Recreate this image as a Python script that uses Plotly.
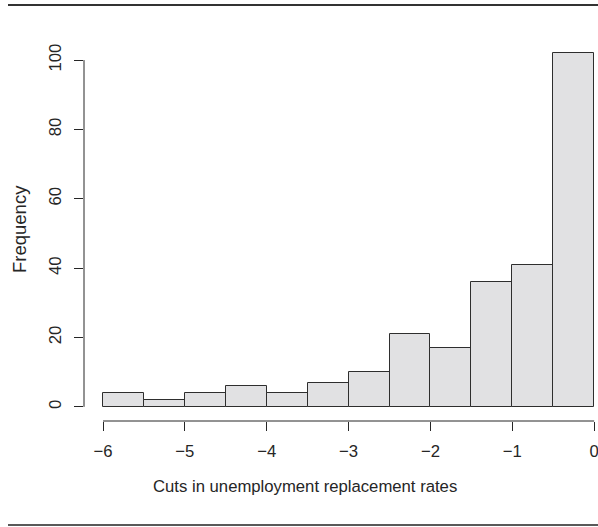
import plotly.graph_objects as go

# Histogram of cuts in unemployment replacement rates (bin width 0.5)
bin_left = [-6.0, -5.5, -5.0, -4.5, -4.0, -3.5, -3.0, -2.5, -2.0, -1.5, -1.0, -0.5]
counts = [4, 2, 4, 6, 4, 7, 10, 21, 17, 36, 41, 102]
x_ticks = [-6, -5, -4, -3, -2, -1, 0]
x_tick_text = ["\u22126", "\u22125", "\u22124", "\u22123", "\u22122", "\u22121", "0"]
y_ticks = [0, 20, 40, 60, 80, 100]
bin_width = 0.5

W, H = 598, 527
L, R, T, B = 84, 0, 39, 106
pw, ph = W - L - R, H - T - B


def px_to_paper_x(px):
    return (px - L) / pw


def px_to_paper_y(py):
    return (H - B - py) / ph


FONT = "Liberation Sans, Arial, Helvetica, sans-serif"
INK = "#262626"
FS = 16.7

fig = go.Figure()
fig.add_trace(go.Bar(
    x=[b + bin_width / 2 for b in bin_left],
    y=counts,
    width=bin_width,
    marker=dict(color="#e1e1e3", line=dict(color="#2e2e2e", width=1)),
    hoverinfo="x+y",
))

shapes = [
    # x axis line spanning the tick range
    dict(type="line", xref="x", yref="paper", x0=min(x_ticks), x1=max(x_ticks),
         y0=0, y1=0, line=dict(color=INK, width=1)),
    # y axis line spanning the tick range
    dict(type="line", xref="paper", yref="y", x0=0, x1=0,
         y0=min(y_ticks), y1=max(y_ticks), line=dict(color=INK, width=1)),
    # page rules above and below the figure
    dict(type="line", xref="paper", yref="paper", x0=px_to_paper_x(8), x1=px_to_paper_x(598),
         y0=px_to_paper_y(5), y1=px_to_paper_y(5), line=dict(color="#333333", width=2)),
    dict(type="line", xref="paper", yref="paper", x0=px_to_paper_x(8), x1=px_to_paper_x(598),
         y0=px_to_paper_y(525), y1=px_to_paper_y(525), line=dict(color="#222222", width=1.5)),
]

annotations = [
    dict(text="Cuts in unemployment replacement rates", xref="paper", yref="paper",
         x=px_to_paper_x(305), y=px_to_paper_y(487), showarrow=False,
         xanchor="center", yanchor="middle", font=dict(family=FONT, size=FS, color=INK)),
    dict(text="Frequency", xref="paper", yref="paper",
         x=px_to_paper_x(19), y=px_to_paper_y(229), showarrow=False, textangle=-90,
         xanchor="center", yanchor="middle", font=dict(family=FONT, size=18.5, color=INK)),
]

fig.update_layout(
    width=W, height=H,
    margin=dict(l=L, r=R, t=T, b=B, pad=0),
    paper_bgcolor="white", plot_bgcolor="white",
    showlegend=False,
    bargap=0,
    font=dict(family=FONT, size=FS, color=INK),
    shapes=shapes,
    annotations=annotations,
    xaxis=dict(
        range=[-6.2326, 0.047],
        tickvals=x_ticks, ticktext=x_tick_text,
        ticks="outside", ticklen=9, tickwidth=1, tickcolor=INK,
        ticklabelstandoff=6, ticklabeloverflow="allow",
        showline=False, showgrid=False, zeroline=False,
        tickfont=dict(family=FONT, size=FS, color=INK),
    ),
    yaxis=dict(
        range=[-4.08, 106.08],
        tickvals=y_ticks,
        ticks="outside", ticklen=9, tickwidth=1, tickcolor=INK,
        tickangle=-90, ticklabelstandoff=6, ticklabeloverflow="allow",
        showline=False, showgrid=False, zeroline=False,
        tickfont=dict(family=FONT, size=FS, color=INK),
    ),
)

fig.write_html("out.html")
